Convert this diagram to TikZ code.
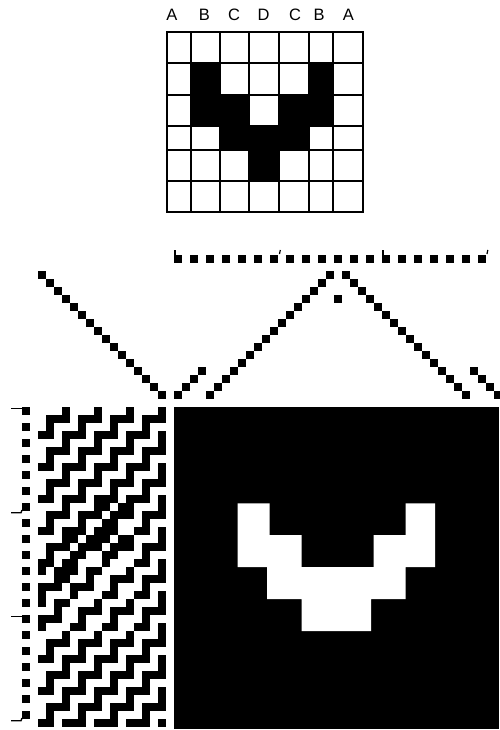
\documentclass[tikz,border=0pt]{standalone}
\usepackage{fontspec}
\setmainfont{Liberation Sans}
\newcommand{\cell}[2]{\fill ({6+8*(#1)},{407+8*(#2)}) rectangle ++(8.06,8.06);}
\tikzset{
  label text/.style={font=\fontsize{16.5}{18}\selectfont, anchor=base, inner sep=0pt, text=black},
  gridline/.style={line width=2pt, black},
  tickline/.style={line width=1.4pt, black}
}
\begin{document}
\begin{tikzpicture}[x=1pt,y=-1pt]
\useasboundingbox (0,0) rectangle (499,730);
\fill[white] (0,0) rectangle (499,730);

% labelled grid: filled cells
\fill (191.3,63.3) rectangle (220,95);
\fill (308.7,63.3) rectangle (333.3,95);
\fill (191.3,95) rectangle (249.3,126);
\fill (279.3,95) rectangle (333.3,126);
\fill (220,126) rectangle (308.7,150);
\fill (249.3,150) rectangle (279.3,180.7);
% grid lines
\foreach \gx in {166.7,191.3,220,249.3,279.3,308.7,333.3,362.7}
  \draw[gridline] (\gx,32.3) -- (\gx,211.7);
\foreach \gy in {32.3,63.3,95,126,150,180.7,211.7}
  \draw[gridline] (166,\gy) -- (363.5,\gy);

\node[label text] (la1) at (172,20.7) {A};
\node[label text] (lb1) at (204.3,20.7) {B};
\node[label text] (lc1) at (234,20.7) {C};
\node[label text] (ld) at (263.7,20.7) {D};
\node[label text] (lc2) at (295,20.7) {C};
\node[label text] (lb2) at (319,20.7) {B};
\node[label text] (la2) at (348.3,20.7) {A};

% top row of squares
\foreach \c in {21,23,...,59} {\cell{\c}{-19}}
% threading diagonals
\foreach \i in {0,...,15} {\cell{4+\i}{-17+\i} \cell{25+\i}{-2-\i} \cell{42+\i}{-17+\i}}
\foreach \i in {0,...,3} {\cell{21+\i}{-2-\i} \cell{58+\i}{-5+\i}}
\cell{41}{-14}
% top ticks
\foreach \tx in {175,383} \draw[tickline] (\tx,250) -- (\tx,256);
\foreach \tx in {279.5,487} \draw[line width=1.2pt] (\tx,254) -- (\tx+0.8,250);

% left column of squares and ticks
\foreach \r in {0,2,...,38} {\cell{2}{\r}}
\draw[tickline] (11,408.5) -- (24,408.5);
\draw[tickline] (11,512.7) -- (21,512.7) -- (22,510);
\draw[tickline] (11,616.7) -- (24,616.7);
\draw[tickline] (11,720.7) -- (21,720.7) -- (22,718);

% drawdown: the plain twill rows
\foreach \r in {0,4,8,28,32,36} {\foreach \c in {7,11,15,19} {\cell{\c}{\r}}}
\foreach \r in {1,5,9,13,17,29,33,37} {\foreach \c in {5,6,7,9,10,11,13,14,15,17,18,19} {\cell{\c}{\r}}}
\foreach \r in {2,6,10,30,34,38} {\foreach \c in {5,9,13,17} {\cell{\c}{\r}}}
\foreach \r in {3,7,11,31,35,39} {\foreach \c in {4,5,7,8,9,11,12,13,15,16,17,19} {\cell{\c}{\r}}}
% drawdown: the rows that differ
\foreach \r/\L in {
 12/{7,11,12,14,15,19},14/{5,9,12,13,17},
 15/{4,5,7,8,9,11,12,13,16,17,19},
 16/{7,8,10,11,12,14,15,19},18/{5,8,9,12,13,17},
 19/{4,5,7,8,12,16,17,19},
 20/{4,6,7,8,10,11,15,19},21/{6,7,10,13,14,15,17,18,19},
 22/{4,5,6,8,9,10,13,17},23/{4,8,12,13,16,17,19},
 24/{4,6,7,11,15,19},25/{6,9,10,11,13,14,15,17,18,19},
 26/{4,5,6,9,13,17},27/{4,8,9,12,13,16,17,19}}
{ \foreach \c in \L {\cell{\c}{\r}} }

% big black block with white motif
\fill (174,407) rectangle (499,729);
\fill[white] (237.7,503.3) -- (269.7,503.3) -- (269.7,535) -- (301.7,535) -- (301.7,567) -- (373.7,567)
 -- (373.7,535) -- (405.7,535) -- (405.7,503.3) -- (435,503.3) -- (435,567) -- (405.7,567)
 -- (405.7,599) -- (371,599) -- (371,631) -- (301.7,631) -- (301.7,599) -- (267,599) -- (267,567)
 -- (237.7,567) -- cycle;
\end{tikzpicture}
\end{document}
